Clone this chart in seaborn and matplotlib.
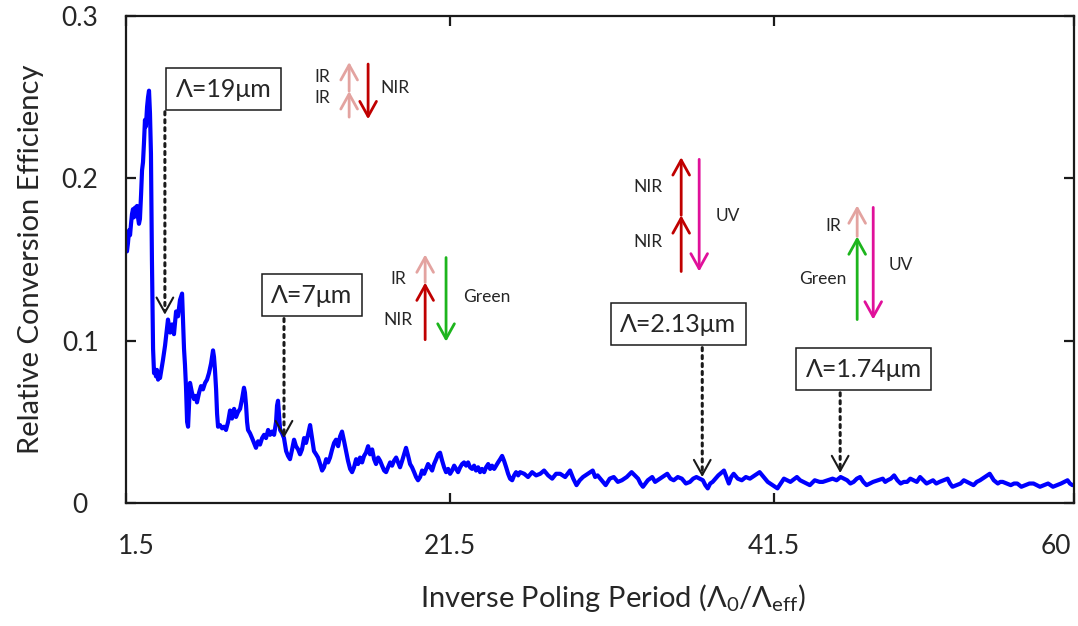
import matplotlib
matplotlib.use("Agg")
import matplotlib.pyplot as plt
import seaborn as sns
import pandas as pd
from matplotlib.transforms import ScaledTranslation

# ---------------- data ----------------
inv_period = [
    1.56, 1.62, 1.69, 1.75, 1.81, 1.87, 1.93, 1.99, 2.06, 2.12, 2.18, 2.24, 2.30, 2.36, 2.43,
    2.49, 2.55, 2.61, 2.67, 2.73, 2.80, 2.86, 2.92, 2.98, 3.04, 3.10, 3.17, 3.23, 3.29, 3.35,
    3.41, 3.48, 3.54, 3.60, 3.78, 3.91, 4.03, 4.09, 4.22, 4.34, 4.46, 4.59, 4.71, 4.83, 4.96,
    5.02, 5.08, 5.14, 5.20, 5.27, 5.33, 5.39, 5.45, 5.57, 5.70, 5.82, 5.88, 6.01, 6.13, 6.25,
    6.38, 6.50, 6.62, 6.75, 6.87, 6.93, 6.99, 7.06, 7.12, 7.18, 7.30, 7.43, 7.55, 7.67, 7.80,
    7.92, 8.04, 8.17, 8.29, 8.41, 8.54, 8.66, 8.78, 8.84, 8.91, 8.97, 9.03, 9.15, 9.28, 9.40,
    9.52, 9.65, 9.77, 9.90, 10.02, 10.14, 10.27, 10.39, 10.51, 10.64, 10.76, 10.82, 10.88, 10.94,
    11.01, 11.13, 11.25, 11.38, 11.50, 11.62, 11.75, 11.87, 11.99, 12.12, 12.24, 12.36, 12.49,
    12.61, 12.73, 12.86, 12.98, 13.10, 13.23, 13.35, 13.48, 13.60, 13.72, 13.85, 13.97, 14.09,
    14.22, 14.34, 14.46, 14.59, 14.71, 14.83, 14.96, 15.08, 15.20, 15.33, 15.45, 15.57, 15.70,
    15.82, 15.94, 16.07, 16.19, 16.31, 16.44, 16.56, 16.69, 16.81, 16.93, 17.06, 17.18, 17.30,
    17.43, 17.55, 17.67, 17.80, 17.92, 18.04, 18.17, 18.29, 18.41, 18.54, 18.66, 18.78, 18.91,
    19.03, 19.15, 19.28, 19.40, 19.52, 19.65, 19.77, 19.90, 20.02, 20.14, 20.27, 20.39, 20.51,
    20.64, 20.76, 20.88, 21.01, 21.13, 21.25, 21.38, 21.50, 21.62, 21.75, 21.87, 21.99, 22.12,
    22.24, 22.36, 22.49, 22.61, 22.73, 22.86, 22.98, 23.10, 23.23, 23.35, 23.47, 23.60, 23.72,
    23.85, 23.97, 24.09, 24.22, 24.34, 24.46, 24.59, 24.71, 24.83, 24.96, 25.08, 25.20, 25.33,
    25.45, 25.57, 25.70, 25.82, 26.07, 26.31, 26.56, 26.81, 27.06, 27.30, 27.55, 27.80, 28.04,
    28.29, 28.60, 28.90, 29.10, 29.30, 29.50, 29.70, 30.00, 30.30, 30.45, 30.60, 30.85, 31.10,
    31.35, 31.60, 31.85, 32.10, 32.40, 32.70, 32.90, 33.10, 33.25, 33.40, 33.70, 33.97, 34.15,
    34.30, 34.60, 34.90, 35.10, 35.30, 35.55, 35.80, 36.05, 36.30, 36.50, 36.70, 36.90, 37.10,
    37.25, 37.40, 37.55, 37.70, 38.05, 38.40, 38.55, 38.70, 38.85, 39.00, 39.25, 39.50, 39.75,
    40.00, 40.30, 40.60, 40.85, 41.10, 41.40, 41.70, 41.90, 42.10, 42.50, 42.90, 43.10, 43.30,
    43.50, 43.70, 44.00, 44.30, 44.50, 44.80, 45.10, 45.35, 45.60, 45.80, 46.00, 46.20, 46.40,
    46.60, 46.80, 47.00, 47.20, 47.40, 47.60, 47.90, 48.20, 48.35, 48.50, 48.70, 48.90, 49.10,
    49.30, 49.50, 49.70, 49.90, 50.10, 50.30, 50.50, 50.70, 50.90, 51.10, 51.30, 51.50, 51.70,
    51.95, 52.20, 52.35, 52.50, 52.75, 53.00, 53.20, 53.40, 53.60, 53.80, 54.00, 54.20, 54.50,
    54.80, 55.05, 55.30, 55.45, 55.60, 55.85, 56.10, 56.30, 56.50, 56.75, 57.00, 57.25, 57.50,
    57.70, 57.90, 58.15, 58.40, 58.55, 58.70, 58.95, 59.20, 59.40, 59.60, 59.75, 59.90,
]
efficiency = [
    0.155, 0.160, 0.168, 0.165, 0.172, 0.178, 0.181, 0.176, 0.182, 0.178, 0.183, 0.176, 0.172, 0.175, 0.190,
    0.205, 0.210, 0.222, 0.236, 0.232, 0.244, 0.250, 0.254, 0.240, 0.215, 0.150, 0.095, 0.080, 0.082, 0.078,
    0.082, 0.076, 0.079, 0.077, 0.088, 0.097, 0.108, 0.113, 0.105, 0.110, 0.104, 0.118, 0.115, 0.125, 0.129,
    0.112, 0.095, 0.085, 0.072, 0.050, 0.047, 0.060, 0.074, 0.068, 0.064, 0.066, 0.062, 0.068, 0.072, 0.070,
    0.074, 0.076, 0.080, 0.086, 0.094, 0.090, 0.082, 0.070, 0.055, 0.047, 0.048, 0.046, 0.047, 0.045, 0.050,
    0.057, 0.052, 0.058, 0.053, 0.056, 0.058, 0.064, 0.071, 0.068, 0.060, 0.050, 0.045, 0.043, 0.040, 0.037,
    0.034, 0.038, 0.036, 0.040, 0.042, 0.040, 0.045, 0.042, 0.044, 0.042, 0.050, 0.060, 0.063, 0.055,
    0.045, 0.043, 0.040, 0.032, 0.029, 0.027, 0.033, 0.039, 0.035, 0.033, 0.030, 0.033, 0.040,
    0.037, 0.042, 0.048, 0.040, 0.032, 0.030, 0.028, 0.024, 0.020, 0.022, 0.027, 0.025, 0.028,
    0.033, 0.037, 0.039, 0.035, 0.041, 0.044, 0.038, 0.032, 0.026, 0.021, 0.019, 0.022, 0.027,
    0.024, 0.028, 0.025, 0.029, 0.031, 0.035, 0.030, 0.033, 0.027, 0.024, 0.028, 0.026, 0.023,
    0.020, 0.019, 0.022, 0.025, 0.023, 0.026, 0.028, 0.025, 0.022, 0.026, 0.030, 0.034, 0.029,
    0.024, 0.022, 0.019, 0.016, 0.014, 0.016, 0.020, 0.018, 0.021, 0.024, 0.022, 0.020, 0.024,
    0.027, 0.030, 0.031, 0.026, 0.022, 0.019, 0.021, 0.018, 0.020, 0.023, 0.021, 0.019, 0.022,
    0.024, 0.025, 0.023, 0.025, 0.022, 0.021, 0.023, 0.020, 0.022, 0.019, 0.021, 0.019, 0.022,
    0.024, 0.021, 0.023, 0.021, 0.023, 0.025, 0.027, 0.029, 0.026, 0.022, 0.018, 0.015, 0.014,
    0.017, 0.019, 0.017, 0.019, 0.018, 0.016, 0.019, 0.017, 0.018, 0.020, 0.017, 0.015, 0.018,
    0.018, 0.016, 0.020, 0.015, 0.011, 0.014, 0.016, 0.018, 0.020, 0.016, 0.017, 0.014, 0.011,
    0.015, 0.016, 0.013, 0.014, 0.016, 0.019, 0.017, 0.015, 0.012, 0.010, 0.014, 0.016, 0.013,
    0.014, 0.016, 0.018, 0.015, 0.014, 0.016, 0.015, 0.012, 0.013, 0.015, 0.016, 0.015, 0.014,
    0.011, 0.009, 0.012, 0.013, 0.017, 0.020, 0.016, 0.012, 0.016, 0.018, 0.015, 0.014, 0.016,
    0.015, 0.017, 0.019, 0.016, 0.013, 0.011, 0.009, 0.012, 0.015, 0.013, 0.016, 0.014, 0.013,
    0.012, 0.011, 0.014, 0.013, 0.013, 0.014, 0.015, 0.014, 0.016, 0.015, 0.014, 0.012, 0.013,
    0.015, 0.016, 0.013, 0.011, 0.012, 0.013, 0.014, 0.015, 0.013, 0.014, 0.015, 0.017, 0.014,
    0.012, 0.013, 0.013, 0.015, 0.014, 0.013, 0.016, 0.014, 0.012, 0.013, 0.014, 0.012, 0.013,
    0.014, 0.015, 0.012, 0.010, 0.011, 0.012, 0.014, 0.013, 0.012, 0.011, 0.013, 0.014, 0.016,
    0.018, 0.014, 0.012, 0.013, 0.013, 0.012, 0.011, 0.012, 0.012, 0.010, 0.011, 0.012, 0.012,
    0.011, 0.010, 0.011, 0.012, 0.011, 0.010, 0.011, 0.012, 0.013, 0.014, 0.012, 0.011,
]

x_ticks = [1.5, 21.5, 41.5, 60]
x_tick_labels = ["1.5", "21.5", "41.5", "60"]
y_ticks = [0, 0.1, 0.2, 0.3]
y_tick_labels = ["0", "0.1", "0.2", "0.3"]

# marked poling periods: label, x of marked point, y of marked point
period_labels = ["Λ=19μm", "Λ=7μm", "Λ=2.13μm", "Λ=1.74μm"]
period_x = [3.9, 11.25, 37.06, 45.57]
period_y = [0.116, 0.040, 0.016, 0.0185]

# ---------------- style ----------------
sns.set_theme(style="ticks")
plt.rcParams["font.family"] = ["Lato", "DejaVu Sans"]
plt.rcParams["mathtext.fontset"] = "custom"
plt.rcParams["mathtext.rm"] = "Lato"
plt.rcParams["mathtext.it"] = "Lato"
plt.rcParams["mathtext.default"] = "regular"

TXT = "#262626"
fig = plt.figure(figsize=(10.78, 6.26), dpi=100)
ax = fig.add_axes([126 / 1078, 1 - 503 / 626, 948 / 1078, 487 / 626])

df = pd.DataFrame({"x": inv_period, "y": efficiency})
sns.lineplot(data=df, x="x", y="y", ax=ax, color="#0000FF", lw=3.0,
             estimator=None, sort=False, legend=False)

ax.set_xlim(1.5, 60)
ax.set_ylim(0, 0.3)
ax.set_xticks(x_ticks)
ax.set_xticklabels(x_tick_labels)
ax.set_yticks(y_ticks)
ax.set_yticklabels(y_tick_labels)
for s in ax.spines.values():
    s.set_visible(True)
    s.set_linewidth(1.6)
    s.set_color("#1a1a1a")
ax.tick_params(axis="both", which="major", direction="in", length=7, width=1.6,
               color="#1a1a1a", labelsize=19, labelcolor=TXT,
               top=True, right=True)
ax.tick_params(axis="x", pad=22)
ax.tick_params(axis="y", pad=33)
for lbl in ax.get_yticklabels():
    lbl.set_horizontalalignment("center")
xl = ax.get_xticklabels()
xl[0].set_transform(xl[0].get_transform() + ScaledTranslation(10 / 100, 0, fig.dpi_scale_trans))
xl[-1].set_transform(xl[-1].get_transform() + ScaledTranslation(-18 / 100, 0, fig.dpi_scale_trans))

ax.set_xlabel(r"Inverse Poling Period ($\Lambda_0$/$\Lambda_{eff}$)", fontsize=21, color=TXT)
ax.set_ylabel("Relative Conversion Efficiency", fontsize=21, color=TXT)
ax.xaxis.set_label_coords(0.514, -0.163)
ax.yaxis.set_label_coords(-0.087, 0.5)

# ---------------- period call-out boxes with dotted arrows ----------------
box_pos = [(7.52, 0.255), (12.98, 0.128), (35.57, 0.110), (47.02, 0.0824)]
box_bottom = [0.241, 0.1136, 0.0957, 0.0679]
for lab, px, py, (bx, by), bb in zip(period_labels, period_x, period_y, box_pos, box_bottom):
    ax.text(bx, by, lab, fontsize=18, color=TXT, ha="center", va="center",
            bbox=dict(boxstyle="square,pad=0.38", fc="white", ec="#1a1a1a", lw=1.1), zorder=5)
    ax.annotate("", xy=(px, py + 0.004), xytext=(px, bb),
                arrowprops=dict(arrowstyle="-", ls=(0, (1, 1.6)), lw=2.2, color="#1a1a1a",
                                shrinkA=0, shrinkB=0), zorder=6)
    ax.annotate("", xy=(px, py), xytext=(px, py + 0.003),
                arrowprops=dict(arrowstyle="->,head_length=0.9,head_width=0.5", lw=1.5,
                                color="#1a1a1a", shrinkA=0, shrinkB=0), zorder=6)

# ---------------- energy diagrams ----------------
PINK = "#E3A3A0"
RED = "#C00000"
GREEN = "#1DB51D"
MAG = "#E0109A"


def arrow(x, y0, y1, color):
    ax.annotate("", xy=(x, y1), xytext=(x, y0),
                arrowprops=dict(arrowstyle="->,head_length=0.9,head_width=0.5", lw=2.0,
                                color=color, shrinkA=0, shrinkB=0), zorder=4)


def label(x, y, s):
    ax.text(x, y, s, fontsize=12.5, color=TXT, ha="center", va="center", zorder=4)


# IR + IR -> NIR
arrow(15.27, 0.2377, 0.2537, PINK)
arrow(15.27, 0.2537, 0.2716, PINK)
arrow(16.44, 0.2704, 0.2364, RED)
label(13.6, 0.2623, "IR")
label(13.6, 0.2494, "IR")
label(18.1, 0.2556, "NIR")

# NIR + IR -> Green
arrow(19.96, 0.1006, 0.1358, RED)
arrow(19.96, 0.1358, 0.1531, PINK)
arrow(21.25, 0.1512, 0.0994, GREEN)
label(18.29, 0.1377, "IR")
label(18.29, 0.1130, "NIR")
label(23.78, 0.1272, "Green")

# NIR + NIR -> UV
arrow(35.76, 0.1426, 0.1772, RED)
arrow(35.76, 0.1772, 0.2130, RED)
arrow(36.87, 0.2117, 0.1426, MAG)
label(33.72, 0.1944, "NIR")
label(33.72, 0.1605, "NIR")
label(38.66, 0.1765, "UV")

# Green + IR -> UV
arrow(46.62, 0.1130, 0.1642, GREEN)
arrow(46.62, 0.1642, 0.1833, PINK)
arrow(47.61, 0.1821, 0.1130, MAG)
label(45.14, 0.1704, "IR")
label(44.52, 0.1377, "Green")
label(49.34, 0.1469, "UV")

fig.savefig("out.png", dpi=100)
